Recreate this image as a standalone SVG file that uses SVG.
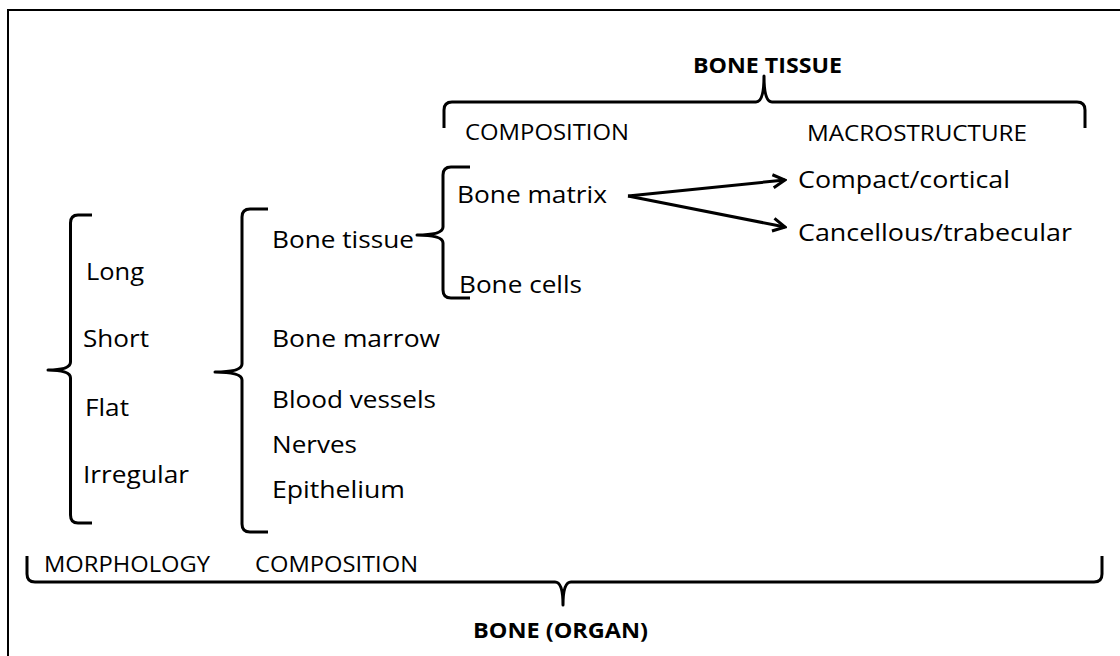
<svg xmlns="http://www.w3.org/2000/svg" width="1120" height="656" viewBox="0 0 1120 656">
<defs>
<style>
.t{font-family:"Open Sans","Noto Sans","Liberation Sans",sans-serif;font-size:24px;fill:#000}
.c{font-family:"Open Sans","Noto Sans","Liberation Sans",sans-serif;font-size:21px;fill:#000}
.b{font-family:"Open Sans","Noto Sans","Liberation Sans",sans-serif;font-size:21px;font-weight:bold;fill:#000}
.br{fill:none;stroke:#000;stroke-width:3;stroke-linejoin:round;stroke-linecap:butt}
.ar{fill:none;stroke:#000;stroke-width:3}
</style>
<marker id="arr" viewBox="0 0 16 16" refX="14" refY="8" markerWidth="16" markerHeight="16" markerUnits="userSpaceOnUse" orient="auto">
<polyline points="2,1.5 14,8 2,14.5" fill="none" stroke="#000" stroke-width="3"/>
</marker>
</defs>
<rect width="1120" height="656" fill="#fff"/>
<path d="M8,656 V10 H1120" fill="none" stroke="#000" stroke-width="2"/>

<g id="bone-organ">
<path class="br" d="M27,556 L27,574 Q27,582 35,582 L555,582 Q563,582 563,605 Q563,582 571,582 L1094,582 Q1102,582 1102,574 L1102,556"/>
<text class="b" x="473" y="638" textLength="175" lengthAdjust="spacingAndGlyphs">BONE (ORGAN)</text>
</g>

<g id="morphology">
<path class="br" d="M92,215 L78,215 Q70.5,215 70.5,223 L70.5,362 Q70.5,370 48,370 Q70.5,370 70.5,378 L70.5,515 Q70.5,523 78,523 L92,523"/>
<text class="t" x="86" y="280" textLength="58" lengthAdjust="spacingAndGlyphs">Long</text>
<text class="t" x="83" y="347" textLength="66" lengthAdjust="spacingAndGlyphs">Short</text>
<text class="t" x="85" y="416" textLength="44" lengthAdjust="spacingAndGlyphs">Flat</text>
<text class="t" x="83" y="483" textLength="106" lengthAdjust="spacingAndGlyphs">Irregular</text>
<text class="c" x="44" y="572" textLength="166" lengthAdjust="spacingAndGlyphs">MORPHOLOGY</text>
</g>

<g id="composition">
<path class="br" d="M268,209 L250,209 Q242,209 242,217 L242,364 Q242,372 215,372 Q242,372 242,380 L242,524 Q242,532 250,532 L268,532"/>
<text class="t" x="272" y="248" textLength="142" lengthAdjust="spacingAndGlyphs">Bone tissue</text>
<text class="t" x="272" y="347" textLength="168" lengthAdjust="spacingAndGlyphs">Bone marrow</text>
<text class="t" x="272" y="408" textLength="164" lengthAdjust="spacingAndGlyphs">Blood vessels</text>
<text class="t" x="272" y="453" textLength="85" lengthAdjust="spacingAndGlyphs">Nerves</text>
<text class="t" x="272" y="498" textLength="133" lengthAdjust="spacingAndGlyphs">Epithelium</text>
<text class="c" x="255" y="572" textLength="163" lengthAdjust="spacingAndGlyphs">COMPOSITION</text>
</g>

<g id="bone-tissue">
<path class="br" d="M444,128 L444,110 Q444,102 452,102 L756,102 Q764,102 764,76 Q764,102 772,102 L1077,102 Q1085,102 1085,110 L1085,128"/>
<text class="b" x="693" y="73" textLength="149" lengthAdjust="spacingAndGlyphs">BONE TISSUE</text>
<text class="c" x="465" y="140" textLength="164" lengthAdjust="spacingAndGlyphs">COMPOSITION</text>
<text class="c" x="807" y="141" textLength="220" lengthAdjust="spacingAndGlyphs">MACROSTRUCTURE</text>
</g>

<g id="tissue-composition">
<path class="br" d="M470,167 L451,167 Q443,167 443,175 L443,227 Q443,235 417,235 Q443,235 443,243 L443,290 Q443,298 451,298 L470,298"/>
<text class="t" x="457" y="203" textLength="150" lengthAdjust="spacingAndGlyphs">Bone matrix</text>
<text class="t" x="459" y="293" textLength="123" lengthAdjust="spacingAndGlyphs">Bone cells</text>
</g>

<g id="macrostructure">
<text class="t" x="798" y="188" textLength="212" lengthAdjust="spacingAndGlyphs">Compact/cortical</text>
<text class="t" x="798" y="241" textLength="274" lengthAdjust="spacingAndGlyphs">Cancellous/trabecular</text>
</g>

<g id="connectors">
<line class="ar" x1="628" y1="196" x2="785" y2="180" marker-end="url(#arr)"/>
<line class="ar" x1="628" y1="196" x2="785" y2="227" marker-end="url(#arr)"/>
</g>
</svg>
